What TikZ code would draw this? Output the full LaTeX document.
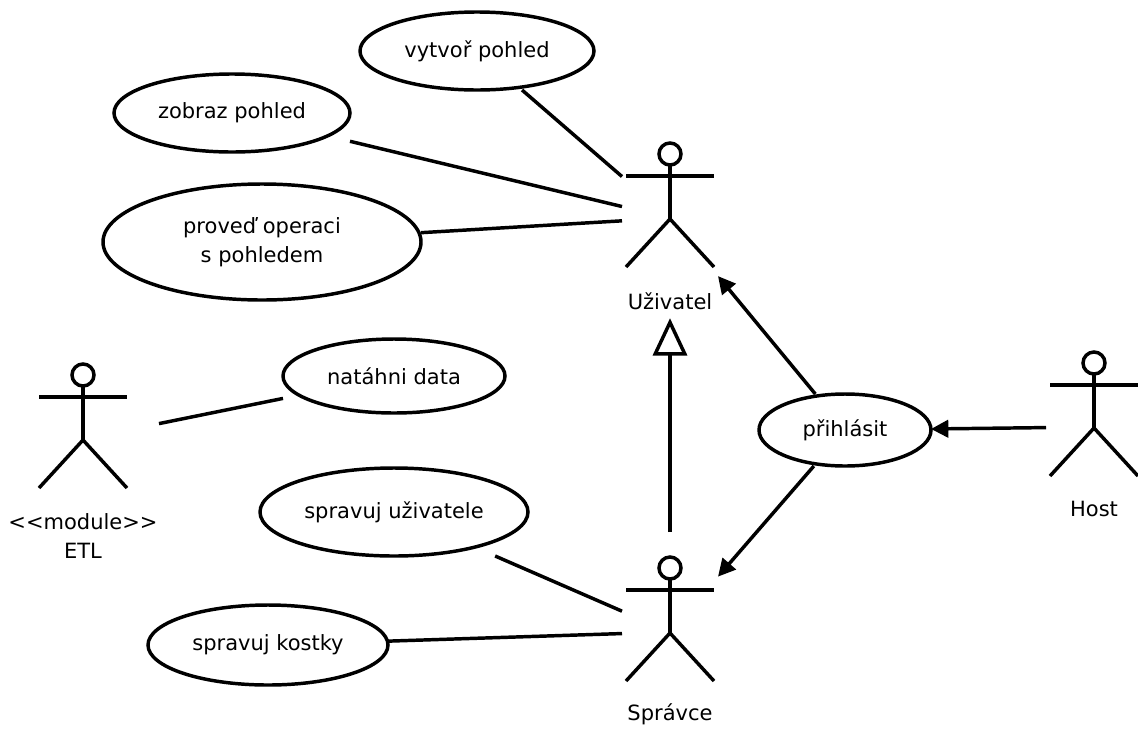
\documentclass[tikz,border=0pt]{standalone}
\usepackage{fontspec}
\setmainfont{DejaVu Sans}
\usetikzlibrary{shapes,arrows.meta,calc}

\tikzset{
    casebox/.style={rectangle, inner sep=0pt, outer sep=0pt, align=center},
    actorbox/.style={rectangle, inner sep=0pt, outer sep=0pt, minimum height=205*0.75pt},
    actorname/.style={anchor=center, inner sep=0pt, align=center},
    uses/.style={-{Triangle[length=13pt,width=13pt]}},
    inherits/.style={-{Triangle[open,fill=white,length=28pt,width=25.5pt]}}
}

% name, x, y, width, height, text
\newcommand{\usecase}[6]{
    \node[casebox, minimum width=#4*0.75pt, minimum height=#5*0.75pt] (#1) at (#2,#3) {#6};
    \draw (#1.center) ellipse ({#4/2} and {#5/2});
}
% name, x, y, box width, label offset, text
\newcommand{\actor}[6]{
    \node[actorbox, minimum width=#4*0.75pt] (#1) at (#2,#3) {};
    \begin{scope}[shift={(#1.center)}]
        \draw (0,-64) circle [radius=11];
        \draw (0,-53) -- (0,1);
        \draw (-44,-42) -- (44,-42);
        \draw (-44,49) -- (0,1) -- (44,49);
        \node[actorname] (#1name) at (0,#5) {#6};
    \end{scope}
}

\begin{document}
\begin{tikzpicture}[x=0.75pt, y=-0.75pt, line width=2.6pt, font=\fontsize{15.75}{21.5}\selectfont]
    \useasboundingbox (0,0) rectangle (1138,729);

    \usecase{vytvor}{477}{51}{234}{78}{vytvoř pohled}
    \usecase{zobraz}{232}{113}{236}{78}{zobraz pohled}
    \usecase{operace}{262}{242}{318}{116}{proveď operaci\\s pohledem}
    \usecase{natahni}{394}{376}{222}{74}{natáhni data}
    \usecase{uzivatele}{394}{512}{268}{88}{spravuj uživatele}
    \usecase{kostky}{268}{645}{240}{80}{spravuj kostky}
    \usecase{prihlasit}{845}{430}{172}{72}{přihlásit}

    \actor{uzivatel}{670}{218}{96}{83}{Uživatel}
    \actor{spravce}{670}{632}{96}{82}{Správce}
    \actor{host}{1094}{427}{96}{82}{Host}
    \actor{etl}{83}{439}{152}{97}{<{}<module>{}>\\ETL}

    \draw (vytvor) -- (uzivatel);
    \draw (zobraz) -- (uzivatel);
    \draw (operace) -- (uzivatel);
    \draw (etl) -- (natahni);
    \draw (uzivatele) -- (spravce);
    \draw (kostky) -- (spravce);

    \draw[uses] (prihlasit) -- (uzivatel);
    \draw[uses] (prihlasit) -- (spravce);
    \draw[uses] (host) -- (prihlasit);
    \draw[inherits, shorten <=-2pt, shorten >=-1.75pt] (spravce) -- (uzivatel);
\end{tikzpicture}
\end{document}
